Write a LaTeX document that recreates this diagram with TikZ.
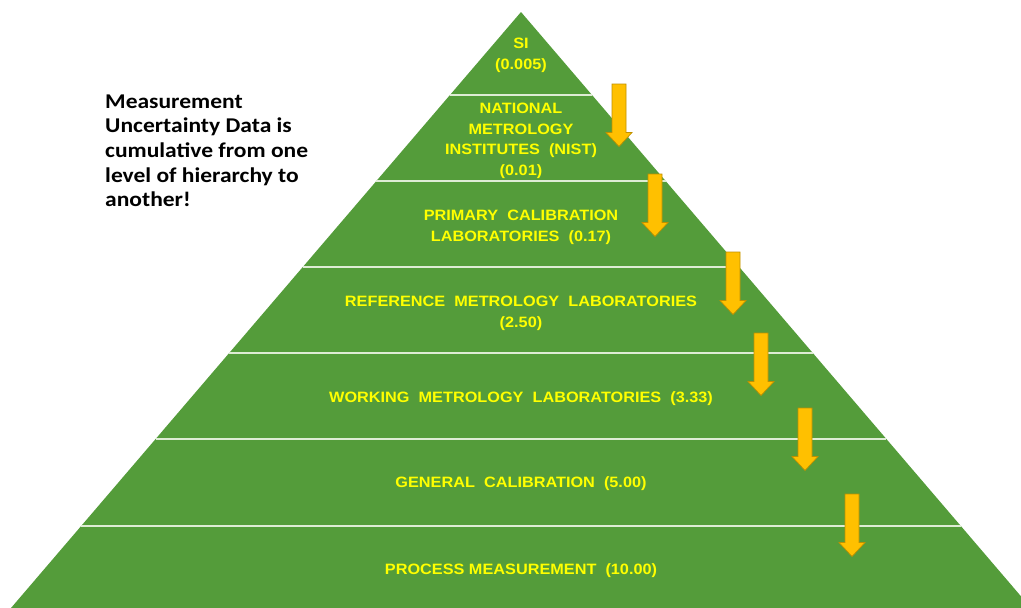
\documentclass[tikz,border=0pt]{standalone}
\usepackage{fontspec}
\setmainfont{Liberation Sans}
\newfontfamily\lblfont{Liberation Sans}
\newfontfamily\notefont{Carlito}
\usetikzlibrary{calc}
\definecolor{pyrgreen}{RGB}{84,156,58}
\definecolor{lblyellow}{RGB}{255,255,0}
\definecolor{divline}{RGB}{222,236,212}
\definecolor{arrfill}{RGB}{255,192,0}
\definecolor{arrdraw}{RGB}{191,144,0}
\newcommand\lsA{\rule[-3.3pt]{0pt}{14.3pt}}
\newcommand\lsB{\rule[-5pt]{0pt}{20pt}}
\tikzset{
  levellabel/.style={inner sep=0pt, align=center, text=lblyellow, xscale=1.085,
    font=\lblfont\bfseries\fontsize{15}{20.7}\selectfont},
  notetext/.style={inner sep=0pt, align=left, text=black, xscale=1.12, anchor=north west,
    font=\notefont\bfseries\fontsize{21}{24.6}\selectfont},
  divider/.style={draw=divline, line width=1.4pt},
  arrowshape/.style={fill=arrfill, draw=arrdraw, line width=0.7pt, line join=miter},
  downarrow/.pic={\path[arrowshape] (-7,0) -- (7,0) -- (7,48.5) -- (13,48.5) -- (0,62.5) -- (-13,48.5) -- (-7,48.5) -- cycle;}
}
\begin{document}
\begin{tikzpicture}[x=1pt,y=-1pt]
\useasboundingbox (0,0) rectangle (1021,608);
\clip (0,0) rectangle (1021,608);
\fill[white] (0,0) rectangle (1021,608);
\coordinate (apex) at (521,12);
\coordinate (bl) at (11,608);
\coordinate (br) at (1031,608);
\fill[pyrgreen] (apex) -- (bl) -- (br) -- cycle;
\foreach \yy in {95,181,267,353,439,526}{
  \draw[divider] ($(apex)!{(\yy-12)/596}!(bl)$) -- ($(apex)!{(\yy-12)/596}!(br)$);
}
\pic at (619,84) {downarrow};
\pic at (655,174) {downarrow};
\pic at (733,252) {downarrow};
\pic at (761,333) {downarrow};
\pic at (805,408) {downarrow};
\pic at (852,494) {downarrow};
\node[levellabel] (si) at (521,55) {\lsA SI\\\lsA (0.005)};
\node[levellabel] (nmi) at (521,140.5) {\lsA NATIONAL\\\lsA METROLOGY\\\lsA INSTITUTES~ (NIST)\\\lsA (0.01)};
\node[levellabel] (pcl) at (521,227) {\lsA PRIMARY~ CALIBRATION\\\lsA LABORATORIES~ (0.17)};
\node[levellabel] (rml) at (521,313) {\lsA REFERENCE~ METROLOGY~ LABORATORIES\\\lsA (2.50)};
\node[levellabel] (wml) at (521,398.5) {\lsA WORKING~ METROLOGY~ LABORATORIES~ (3.33)};
\node[levellabel] (gc) at (521,484) {\lsA GENERAL~ CALIBRATION~ (5.00)};
\node[levellabel] (pm) at (521,570.5) {\lsA PROCESS MEASUREMENT~ (10.00)};
\node[notetext] (note) at (105,93) {\lsB Measurement\\\lsB Uncertainty Data is\\\lsB cumulative from one\\\lsB level of hierarchy to\\\lsB another!};
\end{tikzpicture}
\end{document}
